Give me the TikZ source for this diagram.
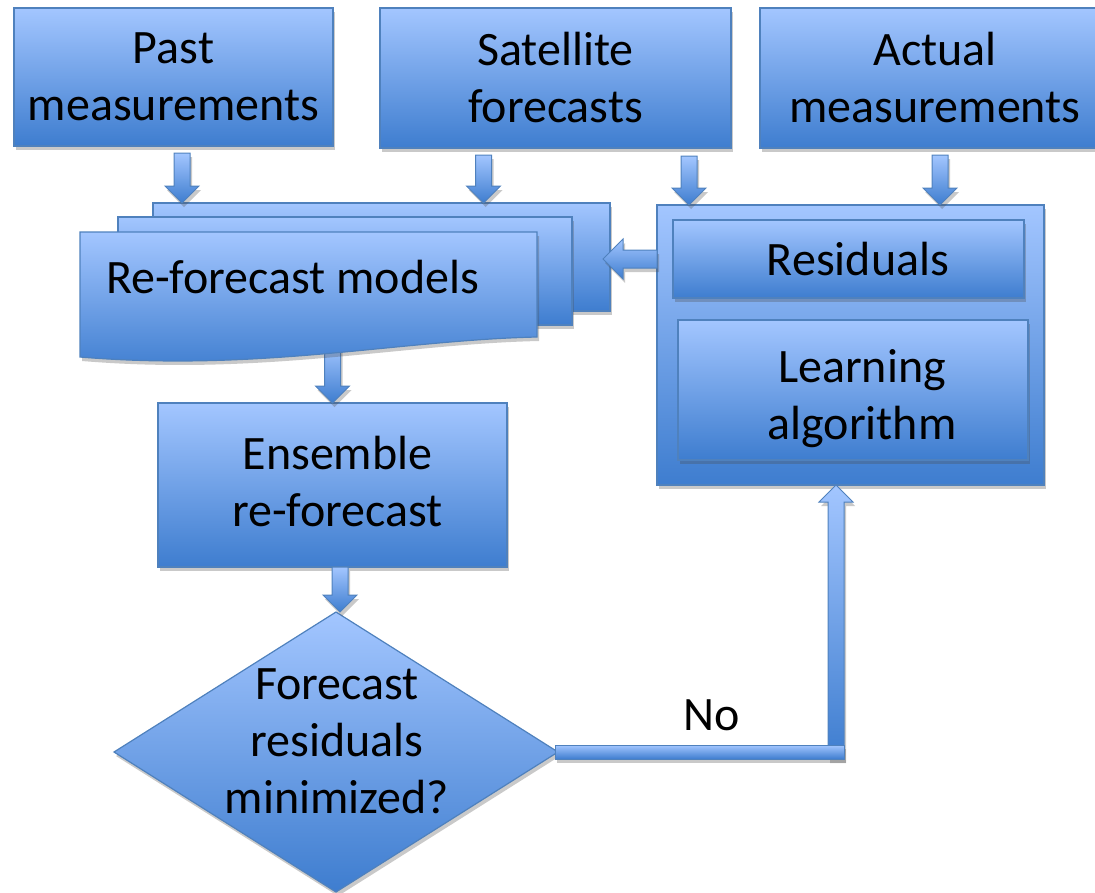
\documentclass[tikz,border=0pt]{standalone}
\usepackage{fontspec}
\setmainfont{Carlito}
\usetikzlibrary{shapes.geometric,shadows,calc}
\definecolor{fillA}{RGB}{163,198,255}
\definecolor{fillB}{RGB}{62,125,207}
\definecolor{edge}{RGB}{79,129,189}
\newcommand\bigtxt{\fontsize{48}{57}\selectfont}
\tikzset{
  shadowed/.style={drop shadow={shadow xshift=2pt,shadow yshift=-4pt,opacity=0.3,fill=black!70}},
  blue box/.style={rectangle, draw=edge, line width=1.2pt, top color=fillA, bottom color=fillB,
    inner sep=0pt, outer sep=0pt, align=center, font=\bigtxt, shadowed},
  sheet/.style={draw=edge, line width=1.2pt, top color=fillA, bottom color=fillB, shadowed},
  lbl/.style={inner sep=0pt, outer sep=0pt, align=center, font=\bigtxt},
  arrowfill/.style={draw=edge, line width=1pt, top color=fillA, bottom color=fillB, shadowed},
}
\newcommand\ArrowDown[2]{\path[arrowfill] let \p1=(#1), \p2=(#2) in
  (\x2-8pt,\y1) -- (\x2+8pt,\y1) -- (\x2+8pt,\y2+17pt) -- (\x2+17pt,\y2+17pt) -- (\x2,\y2)
  -- (\x2-17pt,\y2+17pt) -- (\x2-8pt,\y2+17pt) -- cycle;}
\newcommand\ArrowUp[2]{\path[arrowfill] let \p1=(#1), \p2=(#2) in
  (\x2-8pt,\y1) -- (\x2-8pt,\y2-17pt) -- (\x2-17pt,\y2-17pt) -- (\x2,\y2)
  -- (\x2+17pt,\y2-17pt) -- (\x2+8pt,\y2-17pt) -- (\x2+8pt,\y1) -- cycle;}
\newcommand\ArrowLeft[2]{\path[arrowfill] let \p1=(#1), \p2=(#2) in
  (\x1,\y2+9pt) -- (\x2+20pt,\y2+9pt) -- (\x2+20pt,\y2+20pt) -- (\x2,\y2)
  -- (\x2+20pt,\y2-20pt) -- (\x2+20pt,\y2-9pt) -- (\x1,\y2-9pt) -- cycle;}
\begin{document}
\begin{tikzpicture}[x=1pt,y=-1pt]
\useasboundingbox (0,0) rectangle (1095,892);
\clip (0,0) rectangle (1095,892);

% top inputs
\node[blue box, minimum width=319pt, minimum height=138pt] (past) at (173.5,77) {Past\\measurements};
\node[blue box, minimum width=351pt, minimum height=140pt] (sat) at (555.5,78) {Satellite\\forecasts};
\node[blue box, minimum width=350pt, minimum height=140pt] (act) at (935,78) {Actual\\measurements};

% ensemble box
\node[blue box, minimum width=349pt, minimum height=164pt] (ens) at (332.5,485) {};
\node[lbl] (enstext) at ([xshift=5pt,yshift=3pt]ens.center) {Ensemble\\re-forecast};

% re-forecast models (multi-document)
\node[minimum width=457pt, minimum height=125pt, inner sep=0pt, outer sep=0pt] (docs) at (308.5,294.5) {};
\coordinate (a5t) at ([yshift=12pt]docs.south);
\coordinate (a5s) at (a5t -| ens.north);
\ArrowDown{a5s}{ens.north}
\node[blue box, minimum width=457pt, minimum height=108pt] (back) at (381.5,257) {};
\node[blue box, minimum width=454pt, minimum height=108pt] (mid) at (345,271) {};
\path[sheet] (docs.north west) -- (docs.north east) -- ($(docs.south east)+(0,-20)$)
  .. controls ($(docs.south east)+(-137,-17)$) and ($(docs.south west)+(180,15)$) .. (docs.south west) -- cycle;
\node[lbl, anchor=base] (docstext) at (292.5,293) {Re-forecast models};

% residuals / learning container
\node[blue box, minimum width=387pt, minimum height=280pt] (cont) at (850.5,345) {};
\node[blue box, minimum width=351pt, minimum height=78pt] (res) at (848.5,259) {};
\node[lbl] (restext) at ([xshift=9.5pt]res.center) {Residuals};
\node[blue box, minimum width=350pt, minimum height=140pt] (alg) at (853,390) {};
\node[lbl] (algtext) at ([xshift=9pt,yshift=-9pt]alg.center) {Learning\\algorithm};

% arrow residuals -> models
\coordinate (la_s) at (cont.west |- res.center);
\coordinate (bk) at ([xshift=-7pt]back.east);
\coordinate (la_e) at (bk |- res.center);
\ArrowLeft{la_s}{la_e}

% top arrows
\coordinate (a1s) at ([xshift=8.5pt,yshift=-7pt]past.south);
\coordinate (a1e) at (a1s |- back.north);
\ArrowDown{a1s}{a1e}
\coordinate (a2s) at ([xshift=-72pt,yshift=-7pt]sat.south);
\coordinate (a2e) at (a2s |- back.north);
\ArrowDown{a2s}{a2e}
\coordinate (a3e) at ([xshift=32pt]cont.north west);
\coordinate (sb) at ([yshift=-8pt]sat.south);
\coordinate (a3s) at (sb -| a3e);
\ArrowDown{a3s}{a3e}
\coordinate (a4s) at ([xshift=5pt,yshift=-7pt]act.south);
\coordinate (a4e) at (a4s |- cont.north);
\ArrowDown{a4s}{a4e}

% decision
\node[diamond, draw=edge, line width=1.2pt, top color=fillA, bottom color=fillB,
  minimum width=444pt, minimum height=280pt, inner sep=0pt, outer sep=0pt, shadowed] (dec) at (336,752) {};
\node[lbl] (dectext) at (337,741) {Forecast\\residuals\\minimized?};
\coordinate (a6s) at ([xshift=7.5pt]ens.south);
\coordinate (a6e) at (a6s |- dec.north);
\ArrowDown{a6s}{a6e}

% "No" loop back
\coordinate (n_e) at ([xshift=-14.5pt]cont.south);
\coordinate (n_c) at (n_e |- dec.east);
\coordinate (n_b) at ([yshift=-7pt]n_c);
\ArrowUp{n_b}{n_e}
\path[arrowfill] let \p1=(dec.east), \p2=(n_c) in (\x1-3pt,\y1+7pt) rectangle (\x2+8pt,\y1-7pt);
\node[lbl] (nolab) at (712,715) {No};
\end{tikzpicture}
\end{document}
